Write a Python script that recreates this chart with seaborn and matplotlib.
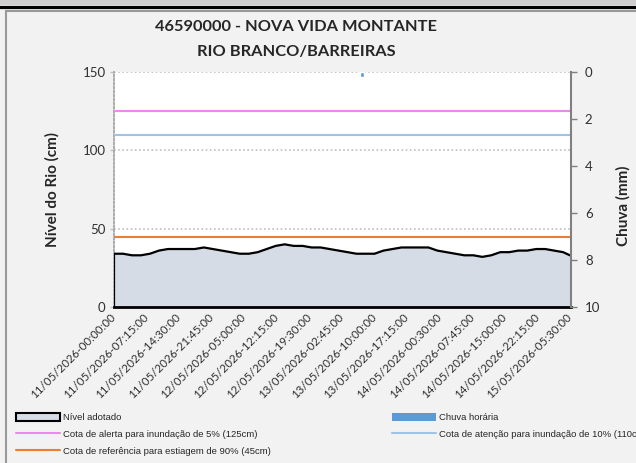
import numpy as np
import pandas as pd
import matplotlib
matplotlib.use("Agg")
import matplotlib.pyplot as plt
import seaborn as sns
from matplotlib import font_manager
from matplotlib.patches import Patch, Rectangle
from matplotlib.lines import Line2D

# hours since 11/05/2026 00:00
level_hours = [0, 2, 4, 6, 8, 10, 12, 14, 16, 18, 20, 22, 24, 26, 28, 30, 32, 34, 36, 38,
               40, 42, 44, 46, 48, 50, 52, 54, 56, 58, 60, 62, 64, 66, 68, 70, 72, 74, 76, 78,
               80, 82, 84, 86, 88, 90, 92, 94, 96, 98, 100, 101.5]
level_cm = [34, 34, 33, 33, 34, 36, 37, 37, 37, 37, 38, 37, 36, 35, 34, 34, 35, 37, 39, 40,
            39, 39, 38, 38, 37, 36, 35, 34, 34, 34, 36, 37, 38, 38, 38, 38, 36, 35, 34, 33,
            33, 32, 33, 35, 35, 36, 36, 37, 37, 36, 35, 33]

rain_hours = [55.25]
rain_mm = [0.2]

cota_alerta = 125
cota_atencao = 110
cota_estiagem = 45

label_hours = [0, 7.25, 14.5, 21.75, 29, 36.25, 43.5, 50.75, 58, 65.25, 72.5, 79.75, 87, 94.25, 101.5]
tick_labels = ["11/05/2026-00:00:00", "11/05/2026-07:15:00", "11/05/2026-14:30:00",
               "11/05/2026-21:45:00", "12/05/2026-05:00:00", "12/05/2026-12:15:00",
               "12/05/2026-19:30:00", "13/05/2026-02:45:00", "13/05/2026-10:00:00",
               "13/05/2026-17:15:00", "14/05/2026-00:30:00", "14/05/2026-07:45:00",
               "14/05/2026-15:00:00", "14/05/2026-22:15:00", "15/05/2026-05:30:00"]

legend_col1 = ["Nível adotado", "Cota de alerta para inundação de 5% (125cm)",
               "Cota de referência para estiagem de 90% (45cm)"]
legend_col2 = ["Chuva horária", "Cota de atenção para inundação de 10% (110cm)"]

sns.set_style("white")
plt.rcParams['font.family'] = ['Lato', 'DejaVu Sans']
names = {f.name for f in font_manager.fontManager.ttflist}
leg_family = 'Liberation Sans Narrow' if 'Liberation Sans Narrow' in names else 'Liberation Sans'

W, H = 636, 463
fig = plt.figure(figsize=(W / 100, H / 100), dpi=100, facecolor='#F2F2F2')
ax = fig.add_axes([114 / W, 1 - 307 / H, (571 - 114) / W, (307 - 72) / H])
ax.set_facecolor('white')

df = pd.DataFrame({'hora': level_hours, 'nivel': level_cm})
ax.fill_between(df['hora'], df['nivel'], color='#D6DCE5', zorder=2)
sns.lineplot(data=df, x='hora', y='nivel', ax=ax, color='black', lw=1.6, zorder=4)
ax.vlines(df['hora'].iloc[0], 0, df['nivel'].iloc[0], color='black', lw=1.6, zorder=4)

ax.axhline(cota_alerta, color='#EE88EE', lw=1.5, zorder=3)
ax.axhline(cota_atencao, color='#9DC3E6', lw=1.5, zorder=3)
ax.axhline(cota_estiagem, color='#ED7D31', lw=1.5, zorder=3)

ax.set_xlim(0, 101.75)
ax.set_ylim(0, 150)
ax.set_yticks([0, 50, 100, 150])
ax.yaxis.grid(True, linestyle=(0, (1, 1.5)), color='#BFBFBF', lw=1.2)
ax.set_axisbelow(True)
ax.set_xticks(label_hours)
ax.set_xticklabels(tick_labels, rotation=45, ha='right', va='center', rotation_mode='anchor',
                   fontsize=8.3, color='#303030')
ax.set_xticks(np.arange(0, 102, 6), minor=True)
ax.tick_params(axis='x', which='major', length=0, pad=6)
ax.tick_params(axis='x', which='minor', length=4, width=1, color='#808080', direction='out')
ax.tick_params(axis='y', length=3, width=1, color='#BFBFBF', labelsize=9.5,
               labelcolor='#303030', pad=3)
ax.set_xlabel('')
ax.set_ylabel('Nível do Rio (cm)', fontsize=11, fontweight='bold')
ax.yaxis.set_label_coords(-(114 - 60) / (571 - 114), 0.5)

for s in ['top', 'right']:
    ax.spines[s].set_visible(False)
ax.spines['left'].set_linestyle((0, (1, 1.2)))
ax.spines['left'].set_color('#A6A6A6')
ax.spines['left'].set_linewidth(1.3)
ax.spines['bottom'].set_color('black')
ax.spines['bottom'].set_linewidth(2)

ax2 = ax.twinx()
ax2.bar(rain_hours, rain_mm, width=0.75, color='#5B9BD5', zorder=5)
ax2.set_ylim(10, 0)
ax2.set_yticks([0, 2, 4, 6, 8, 10])
ax2.tick_params(axis='y', length=4, width=1, color='#808080', labelsize=9.5,
                labelcolor='#303030', pad=6)
ax2.set_ylabel('Chuva (mm)', fontsize=11, fontweight='bold', rotation=90)
ax2.yaxis.set_label_coords(1 + (616 - 571) / (571 - 114), 0.43)
for s in ['top', 'left', 'bottom']:
    ax2.spines[s].set_visible(False)
ax2.spines['right'].set_color('#808080')
ax2.spines['right'].set_linewidth(1.5)

fig.text(296 / W, 1 - 27 / H, '46590000 - NOVA VIDA MONTANTE', ha='center', va='center',
         fontsize=11.8, fontweight='bold')
fig.text(296 / W, 1 - 52 / H, 'RIO BRANCO/BARREIRAS', ha='center', va='center',
         fontsize=11.8, fontweight='bold')

# frame decorations
fig.add_artist(Rectangle((0, 1 - 5 / H), 1, 5 / H, transform=fig.transFigure,
                         facecolor='#D0CECE', edgecolor='none'))
fig.add_artist(Line2D([0, 1], [1 - 6.5 / H] * 2, transform=fig.transFigure, color='black', lw=2.3))
fig.add_artist(Line2D([6 / W, 1], [1 - 10.5 / H] * 2, transform=fig.transFigure, color='#999999', lw=1.5))
fig.add_artist(Line2D([6 / W, 6 / W], [0, 1 - 10.5 / H], transform=fig.transFigure, color='#999999', lw=1.5))

fs = 6.8
px = fs * 100 / 72
leg_kw = dict(loc='upper left', frameon=False, prop={'family': leg_family, 'size': fs},
              handlelength=44 / px, handleheight=0.9, handletextpad=3 / px,
              labelspacing=0.8, borderpad=0, borderaxespad=0)
h1 = [Patch(facecolor='#D6DCE5', edgecolor='black', lw=1.5),
      Line2D([], [], color='#EE88EE', lw=1.5),
      Line2D([], [], color='#ED7D31', lw=1.5)]
h2 = [Patch(facecolor='#5B9BD5', edgecolor='none'),
      Line2D([], [], color='#9DC3E6', lw=1.5)]
leg1 = fig.legend(h1, legend_col1, bbox_to_anchor=(16 / W, 1 - 413 / H), **leg_kw)
leg2 = fig.legend(h2, legend_col2, bbox_to_anchor=(392 / W, 1 - 413 / H), **leg_kw)

fig.savefig('out.png', dpi=100, facecolor=fig.get_facecolor())
